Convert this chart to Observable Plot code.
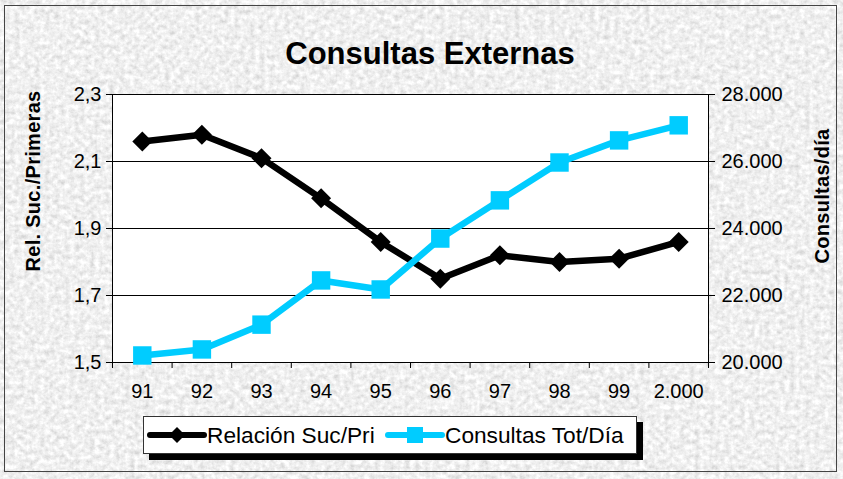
<!DOCTYPE html>
<html><head><meta charset="utf-8">
<script src="https://cdn.jsdelivr.net/npm/d3@7"></script>
<script src="https://cdn.jsdelivr.net/npm/@observablehq/plot@0.6"></script>
<style>
html,body{margin:0;padding:0;}
body{width:843px;height:479px;overflow:hidden;position:relative;font-family:Arial,"Liberation Sans",sans-serif;color:#000;
background-color:#dadada;
background-image:url("data:image/svg+xml,%3Csvg xmlns='http://www.w3.org/2000/svg' width='843' height='479'%3E%3Cfilter id='n'%3E%3CfeTurbulence type='fractalNoise' baseFrequency='0.2' numOctaves='4' seed='3'/%3E%3CfeColorMatrix type='saturate' values='0'/%3E%3CfeComponentTransfer%3E%3CfeFuncR type='linear' slope='0.7' intercept='0.52'/%3E%3CfeFuncG type='linear' slope='0.7' intercept='0.52'/%3E%3CfeFuncB type='linear' slope='0.7' intercept='0.52'/%3E%3CfeFuncA type='linear' slope='0' intercept='1'/%3E%3C/feComponentTransfer%3E%3C/filter%3E%3Crect width='100%25' height='100%25' filter='url(%23n)'/%3E%3C/svg%3E");}
#frame{position:absolute;left:4px;top:5px;width:833px;height:467px;border:1px solid #444;box-sizing:border-box;}
#chart{position:absolute;left:0;top:0;}
#title{position:absolute;left:0;width:860px;top:36px;text-align:center;font-weight:bold;font-size:31px;}
.ytitle{position:absolute;font-weight:bold;font-size:20px;white-space:nowrap;transform:translate(-50%,-50%) rotate(-90deg);letter-spacing:0.3px;}
#legend{position:absolute;left:143px;top:416px;width:494px;height:38px;box-sizing:border-box;background:#fff;border:1px solid #333;box-shadow:6px 6px 0 #000;font-size:22.7px;}
#legend .item{position:absolute;top:0;height:36px;display:flex;align-items:center;white-space:nowrap;}
</style></head>
<body>
<div id="frame"></div>
<div id="chart"></div>
<div id="title">Consultas Externas</div>
<div class="ytitle" style="left:33px;top:181px;">Rel. Suc./Primeras</div>
<div class="ytitle" style="left:822px;top:196px;">Consultas/día</div>
<div id="legend"></div>
<script>
const categories = ["91","92","93","94","95","96","97","98","99","2.000"];
const relacion = [2.16, 2.18, 2.11, 1.99, 1.86, 1.75, 1.82, 1.80, 1.81, 1.86];
const consultas = [20210, 20390, 21130, 22450, 22180, 23700, 24840, 25970, 26630, 27080];
const leftTicks = [1.5, 1.7, 1.9, 2.1, 2.3];
const rightTicks = [20000, 22000, 24000, 26000, 28000];
const seriesNames = ["Relación Suc/Pri", "Consultas Tot/Día"];
const seriesColors = ["#000000", "#00CCFF"];

const toLeft = v => 1.5 + (v - 20000) / 10000;
const fromLeft = y => Math.round((y - 1.5) * 10000 + 20000);
const locale = d3.formatLocale({decimal: ",", thousands: ".", grouping: [3], currency: ["", ""]});
const fmtThousands = locale.format(",");
const idx = d3.range(categories.length);
const FS = 20;

const chart = Plot.plot({
  width: 843, height: 479,
  marginLeft: 112, marginRight: 135, marginTop: 94, marginBottom: 117,
  style: {background: "transparent", fontFamily: "Arial, 'Liberation Sans', sans-serif", fontSize: "20px", color: "#000"},
  x: {domain: [-0.5, categories.length - 0.5]},
  y: {domain: [leftTicks[0], leftTicks[leftTicks.length - 1]]},
  marks: [
    Plot.frame({fill: "#fff"}),
    Plot.gridY(leftTicks.slice(1, -1), {stroke: "#000", strokeOpacity: 1}),
    Plot.frame({stroke: "#000"}),
    Plot.axisY(leftTicks, {anchor: "left", tickSize: 6, tickPadding: 5, stroke: "#000", fontSize: FS, tickFormat: d => d.toFixed(1).replace(".", ","), label: null}),
    Plot.axisY(rightTicks.map(toLeft), {anchor: "right", tickSize: 6, tickPadding: 7, stroke: "#000", fontSize: FS, tickFormat: d => fmtThousands(fromLeft(d)), label: null}),
    Plot.axisX(d3.range(categories.length + 1).map(i => i - 0.5), {anchor: "bottom", tickSize: 6, stroke: "#000", tickFormat: () => "", label: null}),
    Plot.axisX(idx, {anchor: "bottom", tickSize: 0, tickPadding: 21, fontSize: FS, tickFormat: i => categories[i], label: null}),
    Plot.line(relacion, {x: (d, i) => i, y: d => d, stroke: seriesColors[0], strokeWidth: 6.5, strokeLinejoin: "miter"}),
    Plot.dot(relacion, {x: (d, i) => i, y: d => d, symbol: "diamond2", r: 9, fill: seriesColors[0], stroke: null}),
    Plot.line(consultas, {x: (d, i) => i, y: d => toLeft(d), stroke: seriesColors[1], strokeWidth: 6.5, strokeLinejoin: "miter"}),
    Plot.dot(consultas, {x: (d, i) => i, y: d => toLeft(d), symbol: "square", r: 10.4, fill: seriesColors[1], stroke: null})
  ]
});
document.getElementById("chart").appendChild(chart);

// legend
const legend = document.getElementById("legend");
const items = [
  {left: 3, name: seriesNames[0], color: seriesColors[0], shape: "diamond"},
  {left: 241, name: seriesNames[1], color: seriesColors[1], shape: "square"}
];
for (const it of items) {
  const div = document.createElement("div");
  div.className = "item";
  div.style.left = it.left + "px";
  const ns = "http://www.w3.org/2000/svg";
  const svg = document.createElementNS(ns, "svg");
  svg.setAttribute("width", 60); svg.setAttribute("height", 36);
  const line = document.createElementNS(ns, "line");
  line.setAttribute("x1", 3); line.setAttribute("x2", 57); line.setAttribute("y1", 18); line.setAttribute("y2", 18);
  line.setAttribute("stroke", it.color); line.setAttribute("stroke-width", 6); line.setAttribute("stroke-linecap", "round");
  svg.appendChild(line);
  const shp = document.createElementNS(ns, "path");
  shp.setAttribute("d", it.shape === "diamond" ? "M30,10L38,18L30,26L22,18Z" : "M22,10H38V26H22Z");
  shp.setAttribute("fill", it.color);
  svg.appendChild(shp);
  div.appendChild(svg);
  const t = document.createElement("span");
  t.textContent = it.name;
  div.appendChild(t);
  legend.appendChild(div);
}
</script>
</body></html>
